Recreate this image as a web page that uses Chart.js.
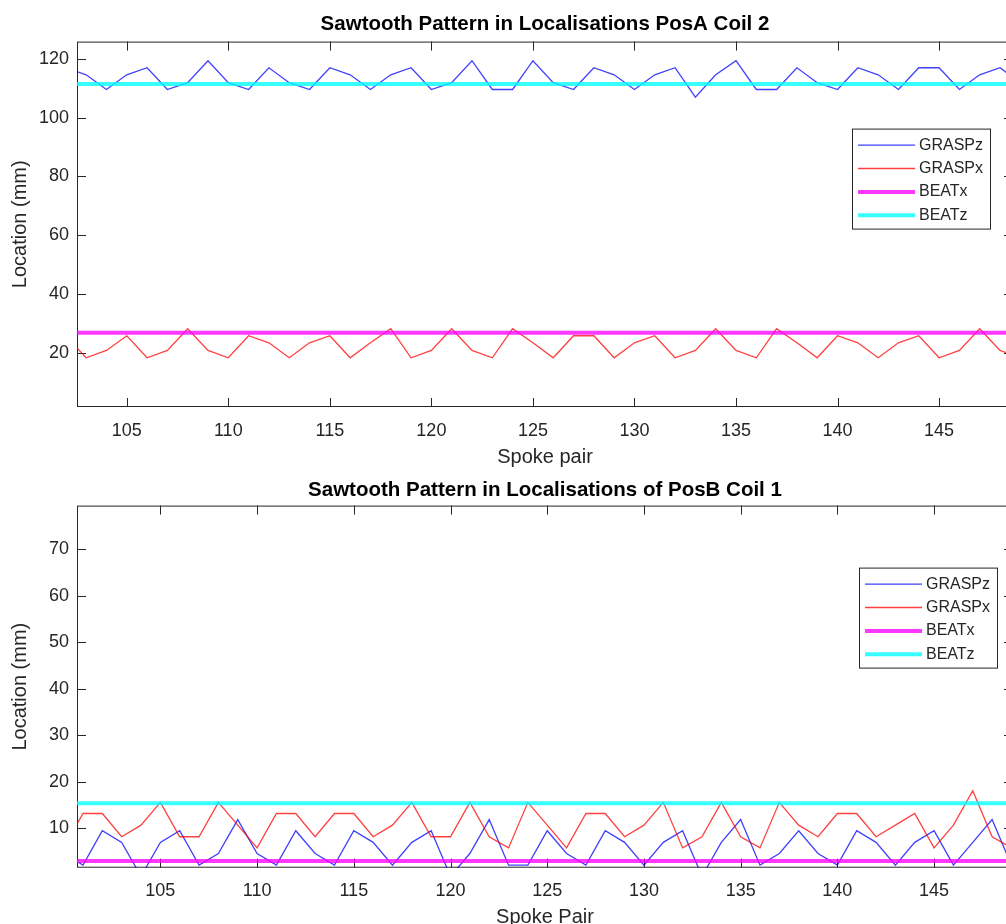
<!DOCTYPE html>
<html>
<head>
<meta charset="utf-8">
<script src="https://cdn.jsdelivr.net/npm/chart.js@4.4.1/dist/chart.umd.min.js"></script>
<style>
  html, body { margin: 0; padding: 0; background: #fff; overflow: hidden; width: 1006px; height: 924px; }
  .panel { position: absolute; left: 0; width: 1020px; height: 470px; }
  #panelA { top: 0; }
  #panelB { top: 470px; }
</style>
</head>
<body>
<div class="panel" id="panelA"><canvas id="chartA" width="1020" height="470"></canvas></div>
<div class="panel" id="panelB"><canvas id="chartB" width="1020" height="470"></canvas></div>
<script>
// ==================== DATA ====================

// Top panel: PosA Coil 2
const spokeA = [102, 103, 104, 105, 106, 107, 108, 109, 110, 111, 112, 113, 114, 115, 116, 117,
  118, 119, 120, 121, 122, 123, 124, 125, 126, 127, 128, 129, 130, 131, 132, 133,
  134, 135, 136, 137, 138, 139, 140, 141, 142, 143, 144, 145, 146, 147, 148, 149];
const graspzA = [117.0, 114.6, 109.6, 114.6, 117.0, 109.6, 111.9, 119.4, 111.9, 109.6, 117.0, 111.9, 109.6, 117.0, 114.6, 109.6,
  114.6, 117.0, 109.6, 111.9, 119.4, 109.6, 109.6, 119.4, 111.9, 109.6, 117.0, 114.6, 109.6, 114.6, 117.0, 107.0,
  114.6, 119.4, 109.6, 109.6, 117.0, 111.9, 109.6, 117.0, 114.6, 109.6, 117.0, 117.0, 109.6, 114.6, 117.0, 111.9];
const graspxA = [25.8, 18.3, 20.8, 25.8, 18.3, 20.8, 28.2, 20.8, 18.3, 25.8, 23.4, 18.3, 23.4, 25.8, 18.3, 23.4,
  28.2, 18.3, 20.8, 28.2, 20.8, 18.3, 28.2, 23.4, 18.3, 25.8, 25.8, 18.3, 23.4, 25.8, 18.3, 20.8,
  28.2, 20.8, 18.3, 28.2, 23.4, 18.3, 25.8, 23.4, 18.3, 23.4, 25.8, 18.3, 20.8, 28.2, 20.8, 18.3];
const beatxA = 26.8;
const beatzA = 111.5;
const xTicksA = [105, 110, 115, 120, 125, 130, 135, 140, 145];
const yTicksA = [20, 40, 60, 80, 100, 120];

// Bottom panel: PosB Coil 1
const spokeB = [100, 101, 102, 103, 104, 105, 106, 107, 108, 109, 110, 111, 112, 113, 114, 115, 116,
  117, 118, 119, 120, 121, 122, 123, 124, 125, 126, 127, 128, 129, 130, 131, 132, 133,
  134, 135, 136, 137, 138, 139, 140, 141, 142, 143, 144, 145, 146, 147, 148, 149];
const graspzB = [4.6, 2.1, 9.5, 7.0, -0.3, 7.0, 9.5, 2.1, 4.6, 11.9, 4.6, 2.1, 9.5, 4.6, 2.1, 9.5, 7.0,
  2.1, 7.0, 9.5, -0.3, 4.6, 11.9, 2.1, 2.1, 9.5, 4.6, 2.1, 9.5, 7.0, 2.1, 7.0, 9.5, -0.3,
  7.0, 11.9, 2.1, 4.6, 9.5, 4.6, 2.1, 9.5, 7.0, 2.1, 7.0, 9.5, 2.1, 7.0, 11.9, 2.1];
const graspxB = [5.8, 13.2, 13.2, 8.2, 10.7, 15.6, 8.2, 8.2, 15.6, 10.7, 5.8, 13.2, 13.2, 8.2, 13.2, 13.2, 8.2,
  10.7, 15.6, 8.2, 8.2, 15.6, 8.2, 5.8, 15.6, 10.7, 5.8, 13.2, 13.2, 8.2, 10.7, 15.6, 5.8, 8.2,
  15.6, 8.2, 5.8, 15.6, 10.7, 8.2, 13.2, 13.2, 8.2, 10.7, 13.2, 5.8, 10.7, 18.1, 8.2, 5.8];
const beatxB = 3.0;
const beatzB = 15.4;
const xTicksB = [105, 110, 115, 120, 125, 130, 135, 140, 145];
const yTicksB = [10, 20, 30, 40, 50, 60, 70];

// ==================== STYLE ====================

const FONT = '"Liberation Sans", Arial, Helvetica, sans-serif';
const INK = "#262626";
Chart.defaults.font.family = FONT;
Chart.defaults.color = INK;

// Axes box with inward ticks (MATLAB style)
const axesBox = {
  id: "axesBox",
  beforeDatasetsDraw(chart) {
    const { ctx, chartArea: a, scales } = chart;
    const x = scales.x, y = scales.y;
    ctx.save();
    ctx.strokeStyle = INK;
    ctx.lineWidth = 1;
    ctx.strokeRect(a.left + 0.5, a.top + 0.5, a.right - a.left - 1, a.bottom - a.top - 1);
    ctx.beginPath();
    x.ticks.forEach((t) => {
      const px = Math.round(x.getPixelForValue(t.value)) + 0.5;
      ctx.moveTo(px, a.bottom); ctx.lineTo(px, a.bottom - 9);
      ctx.moveTo(px, a.top); ctx.lineTo(px, a.top + 9);
    });
    y.ticks.forEach((t) => {
      const py = Math.round(y.getPixelForValue(t.value)) + 0.5;
      ctx.moveTo(a.left, py); ctx.lineTo(a.left + 9, py);
      ctx.moveTo(a.right, py); ctx.lineTo(a.right - 9, py);
    });
    ctx.stroke();
    ctx.restore();
  },
};

// Legend box drawn inside the axes
const boxLegend = {
  id: "boxLegend",
  afterDatasetsDraw(chart, args, opts) {
    const { ctx, chartArea: a } = chart;
    const w = 138, h = 100;
    const left = a.right - opts.right - w;
    const top = a.top + opts.top;
    ctx.save();
    ctx.fillStyle = "#fff";
    ctx.fillRect(left, top, w, h);
    ctx.strokeStyle = INK;
    ctx.lineWidth = 1;
    ctx.strokeRect(left + 0.5, top + 0.5, w, h);
    ctx.font = "16px " + FONT;
    ctx.textBaseline = "middle";
    chart.data.datasets.forEach((ds, i) => {
      const cy = top + 16.5 + i * 23.4;
      ctx.strokeStyle = ds.borderColor;
      ctx.lineWidth = ds.borderWidth;
      ctx.beginPath();
      ctx.moveTo(left + 6, cy);
      ctx.lineTo(left + 63, cy);
      ctx.stroke();
      ctx.fillStyle = INK;
      ctx.fillText(ds.label, left + 67, cy);
    });
    ctx.restore();
  },
};

function points(xs, ys) {
  return xs.map((x, i) => ({ x: x, y: ys[i] }));
}

function flat(xs, value) {
  return [{ x: xs[0], y: value }, { x: xs[xs.length - 1], y: value }];
}

function lineSet(label, data, color, width, order) {
  return {
    label: label,
    data: data,
    borderColor: color,
    borderWidth: width,
    pointRadius: 0,
    tension: 0,
    fill: false,
    clip: 0,
    order: order,
  };
}

// ==================== CHART ====================

function makeChart(id, cfg) {
  const ctx = document.getElementById(id).getContext("2d");
  return new Chart(ctx, {
    type: "line",
    data: {
      datasets: [
        lineSet("GRASPz", points(cfg.spokes, cfg.graspz), "rgba(0, 0, 255, 0.75)", 1.3, 4),
        lineSet("GRASPx", points(cfg.spokes, cfg.graspx), "rgba(255, 0, 0, 0.75)", 1.3, 3),
        lineSet("BEATx", flat(cfg.spokes, cfg.beatx), "rgba(255, 0, 255, 0.78)", 4, 2),
        lineSet("BEATz", flat(cfg.spokes, cfg.beatz), "rgba(0, 255, 255, 0.78)", 4, 1),
      ],
    },
    options: {
      responsive: false,
      animation: false,
      layout: { padding: { left: 0, right: 7, top: 0, bottom: 0 } },
      plugins: {
        legend: { display: false },
        tooltip: { enabled: false },
        title: {
          display: true,
          text: cfg.title,
          fullSize: false,
          color: "#000",
          font: { size: 20.5, weight: "bold" },
          padding: cfg.titlePad,
        },
        boxLegend: cfg.legend,
      },
      scales: {
        x: {
          type: "linear",
          min: cfg.xMin,
          max: cfg.xMax,
          grid: { display: false, drawTicks: false },
          border: { display: false },
          afterBuildTicks: (s) => { s.ticks = cfg.xTicks.map((v) => ({ value: v })); },
          afterFit: (s) => { s.height = cfg.xAxisHeight; },
          ticks: { font: { size: 18 }, padding: 13, maxRotation: 0, autoSkip: false },
          title: {
            display: true,
            text: cfg.xLabel,
            font: { size: 20 },
            padding: { top: 0, bottom: cfg.xTitlePad },
          },
        },
        y: {
          type: "linear",
          min: cfg.yMin,
          max: cfg.yMax,
          grid: { display: false, drawTicks: false },
          border: { display: false },
          afterBuildTicks: (s) => { s.ticks = cfg.yTicks.map((v) => ({ value: v })); },
          afterFit: (s) => { s.width = 77; },
          ticks: { font: { size: 18 }, padding: 8 },
          title: {
            display: true,
            text: "Location (mm)",
            font: { size: 20 },
            padding: { top: 8, bottom: 0 },
          },
        },
      },
    },
    plugins: [axesBox, boxLegend],
  });
}

makeChart("chartA", {
  title: "Sawtooth Pattern in Localisations PosA Coil 2",
  titlePad: { top: 12, bottom: 5 },
  spokes: spokeA, graspz: graspzA, graspx: graspxA, beatx: beatxA, beatz: beatzA,
  xMin: 102.55, xMax: 148.64, yMin: 1.55, yMax: 125.9,
  xTicks: xTicksA, yTicks: yTicksA,
  xLabel: "Spoke pair", xAxisHeight: 63, xTitlePad: 1,
  legend: { right: 23, top: 87 },
});

makeChart("chartB", {
  title: "Sawtooth Pattern in Localisations of PosB Coil 1",
  titlePad: { top: 8, bottom: 3 },
  spokes: spokeB, graspz: graspzB, graspx: graspxB, beatx: beatxB, beatz: beatzB,
  xMin: 100.69, xMax: 149.08, yMin: 1.55, yMax: 79.4,
  xTicks: xTicksB, yTicks: yTicksB,
  xLabel: "Spoke Pair", xAxisHeight: 72.3, xTitlePad: 11,
  legend: { right: 16, top: 62 },
});
</script>
</body>
</html>
